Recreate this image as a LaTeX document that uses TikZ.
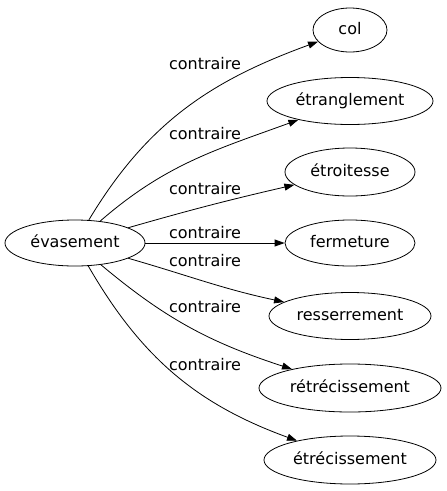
\documentclass[tikz,border=0pt]{standalone}
\usepackage{fontspec}
\setmainfont{DejaVu Sans}
\usetikzlibrary{arrows.meta, shapes.geometric}

\begin{document}
\begin{tikzpicture}[x=1pt, y=1pt,
	word/.style={ellipse, draw, line width=0.8pt, inner sep=0pt, font=\fontsize{16}{19}\selectfont, text height=12pt, text depth=3pt},
	rel/.style={inner sep=0pt, font=\fontsize{16}{19}\selectfont, text height=12pt, text depth=3pt},
	link/.style={line width=0.8pt, -{Triangle[length=10pt, width=7pt]}}]
	
	% parameters
	\def\xt{350}          % column of the target words
	\def\xl{205}          % column of the edge labels
	
	\useasboundingbox (0,0) rectangle (447,-491);
	
	% source word (left)
	\node[word, minimum width=140pt, minimum height=46pt] (evasement) at (75,-243) {évasement};
	
	% target words (right)
	\node[word, minimum width=74pt,  minimum height=44pt] (col)            at (\xt,-30)  {col};
	\node[word, minimum width=166pt, minimum height=47pt] (etranglement)   at (\xt,-101) {étranglement};
	\node[word, minimum width=130pt, minimum height=48pt] (etroitesse)     at (\xt,-172) {étroitesse};
	\node[word, minimum width=130pt, minimum height=46pt] (fermeture)      at (\xt,-243) {fermeture};
	\node[word, minimum width=162pt, minimum height=47pt] (resserrement)   at (\xt,-316) {resserrement};
	\node[word, minimum width=182pt, minimum height=48pt] (retrecissement) at (\xt,-388) {rétrécissement};
	\node[word, minimum width=172pt, minimum height=48pt] (etrecissement)  at (\xt,-460) {étrécissement};
	
	% edges
	\draw[link] (evasement) to[out=59, in=200]  (col);
	\draw[link] (evasement) to[out=41, in=200]  (etranglement);
	\draw[link] (evasement) to[out=16, in=193]  (etroitesse);
	\draw[link] (evasement) --                  (fermeture);
	\draw[link] (evasement) to[out=-16, in=168] (resserrement);
	\draw[link] (evasement) to[out=-40, in=162] (retrecissement);
	\draw[link] (evasement) to[out=-60, in=160] (etrecissement);
	
	% edge labels
	\node[rel] (lcol)            at (\xl,-65)  {contraire};
	\node[rel] (letranglement)   at (\xl,-135) {contraire};
	\node[rel] (letroitesse)     at (\xl,-190) {contraire};
	\node[rel] (lfermeture)      at (\xl,-234) {contraire};
	\node[rel] (lresserrement)   at (\xl,-262) {contraire};
	\node[rel] (lretrecissement) at (\xl,-308) {contraire};
	\node[rel] (letrecissement)  at (\xl,-366) {contraire};
	
\end{tikzpicture}
\end{document}
